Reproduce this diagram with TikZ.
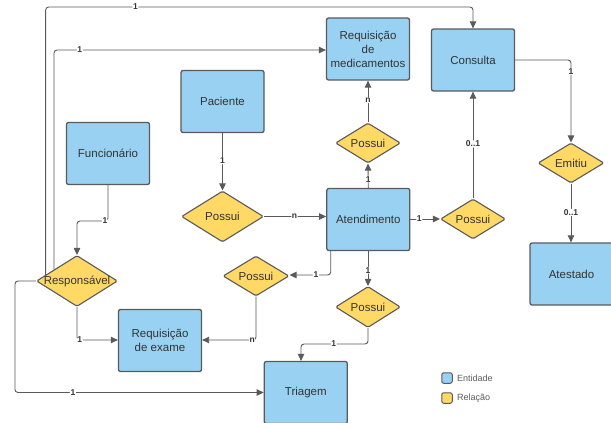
\documentclass[tikz,border=0pt]{standalone}
\usepackage{fontspec}
\setmainfont{Liberation Sans}
\usetikzlibrary{arrows.meta,shapes.geometric,calc}
\definecolor{entblue}{HTML}{99D1F2}
\definecolor{relyel}{HTML}{FFD966}
\definecolor{edgegray}{HTML}{5A5A5A}
\definecolor{txtgray}{HTML}{333333}
\tikzset{
  entity/.style={rectangle, rounded corners=2pt, draw=edgegray, line width=1.3pt, fill=entblue,
    minimum width=83pt, minimum height=62pt, align=center, inner sep=0pt,
    text=txtgray, font=\fontsize{11.5}{14}\selectfont},
  rel/.style={diamond, rounded corners=1.5pt, draw=edgegray, line width=1.1pt, fill=relyel,
    inner sep=0pt, minimum width=65pt, minimum height=40pt,
    label={[text=txtgray, font=\fontsize{11.5}{14}\selectfont]center:#1}},
  conn/.style={draw=edgegray, line width=0.9pt, rounded corners=3pt,
    -{Triangle[length=7pt,width=6.5pt]}},
  lbl/.style={fill=white, inner sep=0.6pt, text=txtgray, font=\bfseries\fontsize{8.5}{9}\selectfont},
  legbox/.style={rectangle, rounded corners=2pt, draw=edgegray, line width=1pt,
    minimum width=10.5pt, minimum height=10.5pt, inner sep=0pt},
  legtxt/.style={anchor=west, text=txtgray!80, font=\fontsize{9}{10}\selectfont, inner sep=0pt}
}
\begin{document}
\begin{tikzpicture}[x=1pt,y=-1pt]
\clip (0,0) rectangle (611,423);
\fill[white] (0,0) rectangle (611,423);
% entities
\node[entity] (reqmed) at (368,49) {Requisição\\de\\medicamentos};
\node[entity] (consulta) at (473,60) {Consulta};
\node[entity] (paciente) at (222.5,101.5) {Paciente};
\node[entity] (func) at (108,153.5) {Funcionário};
\node[entity] (atend) at (368.3,219.5) {Atendimento};
\node[entity] (atestado) at (571.5,274) {Atestado};
\node[entity] (reqex) at (160,340.5) {Requisição\\de exame};
\node[entity] (triagem) at (305.8,392.5) {Triagem};
% relations
\node[rel=Possui] (pmed) at (368,143) {};
\node[rel=Possui, minimum width=82pt, minimum height=51pt] (ppac) at (222.5,216.5) {};
\node[rel=Possui] (pcons) at (473,219) {};
\node[rel=Emitiu, minimum width=66pt] (emitiu) at (571,163) {};
\node[rel=Possui, minimum width=66pt] (pex) at (256,276) {};
\node[rel=Possui, minimum height=41pt] (ptri) at (368,307) {};
\node[rel=Responsável, minimum width=81pt, minimum height=51pt] (resp) at (77,281) {};
% helper coordinates
\coordinate (s1) at ($(resp.west)!0.237!(resp.north)$);
\coordinate (s2) at ($(resp.west)!0.44!(resp.north)$);
\coordinate (ytop) at (0,7);
\coordinate (ysec) at (0,50);
\coordinate (xleft) at (15,0);
\coordinate (yex) at (0,340);
\coordinate (yfunc) at (0,221);
\coordinate (ypex) at (0,275);
\coordinate (ytri) at (0,344);
\coordinate (xtri) at (301,0);
\coordinate (xatl) at (330.7,0);
% connectors
\draw[conn] (s1) -- (s1 |- ytop) -- node[lbl,pos=0.21]{1} (consulta.north |- ytop) -- (consulta.north);
\draw[conn] (s2) -- (s2 |- ysec) -- node[lbl,pos=0.095]{1} (reqmed.west |- ysec);
\draw[conn] (resp.west) -- (xleft |- resp.west) -- (xleft |- triagem.west) -- node[lbl,pos=0.233]{1} (triagem.west);
\draw[conn] (resp.south) -- (resp.south |- yex) -- node[lbl,pos=0.07]{1} (reqex.west |- yex);
\draw[conn] (func.south) -- (func.south |- yfunc) -- node[lbl,pos=0.1]{1} (resp.north |- yfunc) -- (resp.north);
\draw[conn] (paciente.south) -- node[lbl,pos=0.48]{1} (ppac.north);
\draw[conn] (ppac.east) -- node[lbl,pos=0.49]{n} (ppac.east -| atend.west);
\draw[conn] (atend.north) -- node[lbl,pos=0.36]{1} (pmed.south);
\draw[conn] (pmed.north) -- node[lbl,pos=0.53]{n} (reqmed.south);
\draw[conn] (atend.east |- pcons.west) -- node[lbl,pos=0.3]{1} (pcons.west);
\draw[conn] (pcons.north) -- node[lbl,pos=0.51]{0..1} (consulta.south);
\draw[conn] (consulta.east) -- (emitiu.north |- consulta.east) -- node[lbl,pos=0.14]{1} (emitiu.north);
\draw[conn] (emitiu.south) -- node[lbl,pos=0.49]{0..1} (atestado.north -| emitiu.south);
\draw[conn] (xatl |- atend.south) -- (xatl |- ypex) -- node[lbl,pos=0.36]{1} (pex.east |- ypex);
\draw[conn] (pex.south) -- (pex.south |- yex) -- node[lbl,pos=0.07]{n} (reqex.east |- yex);
\draw[conn] (atend.south -| ptri.north) -- node[lbl,pos=0.55]{1} (ptri.north);
\draw[conn] (ptri.south) -- (ptri.south |- ytri) -- node[lbl,pos=0.51]{1} (xtri |- ytri) -- (xtri |- triagem.north);
% legend
\node[legbox, fill=entblue] (legent) at (447,378) {};
\node[legtxt] (legentt) at (457,378) {Entidade};
\node[legbox, fill=relyel] (legrel) at (447,398) {};
\node[legtxt] (legrelt) at (457,398) {Relação};
\end{tikzpicture}
\end{document}
